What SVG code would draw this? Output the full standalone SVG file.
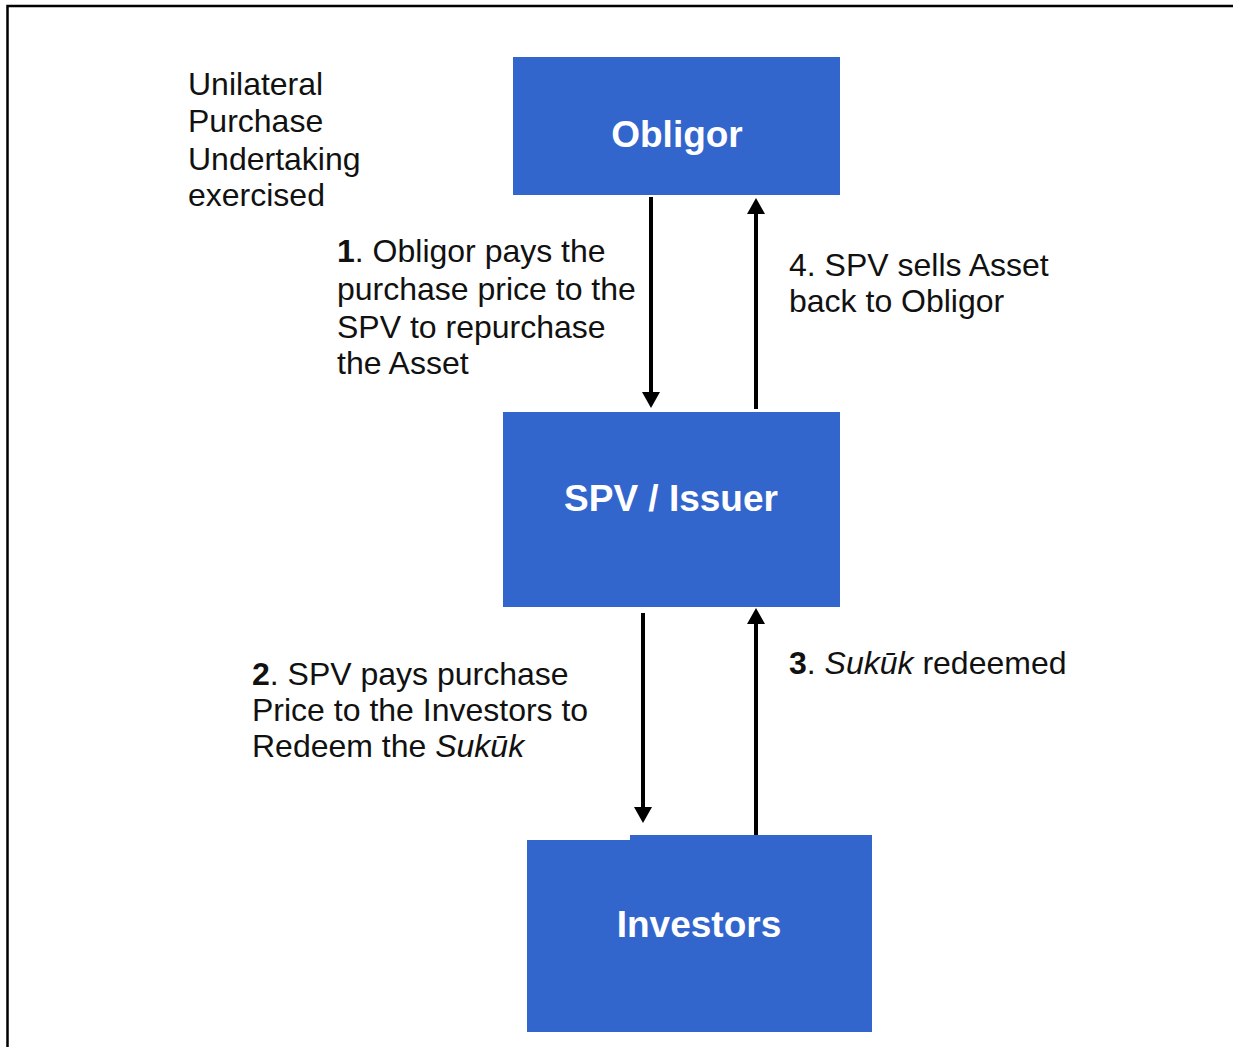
<svg xmlns="http://www.w3.org/2000/svg" width="1233" height="1047" viewBox="0 0 1233 1047">
<style>
.node{fill:#3366CC;}
.nlabel{font-family:"Liberation Sans",Arial,sans-serif;font-weight:bold;font-size:37px;fill:#ffffff;text-anchor:middle;}
.lbl{font-family:"Liberation Sans",Arial,sans-serif;font-size:32px;fill:#111111;}
.conn{stroke:#000;stroke-width:4;fill:none;marker-end:url(#ah);}
</style>
<defs>
<marker id="ah" markerUnits="userSpaceOnUse" viewBox="0 0 16 18" refX="2" refY="9" markerWidth="16" markerHeight="18" orient="auto">
<path d="M0,0 L16,9 L0,18 z" fill="#000"/>
</marker>
</defs>
<rect x="0" y="0" width="1233" height="1047" fill="#ffffff"/>
<g id="frame">
<path d="M7.5,1047 L7.5,6 L1233,6" stroke="#000" stroke-width="2.5" fill="none"/>
</g>
<g id="obligor">
<rect class="node" x="513" y="57" width="327" height="138"/>
<text class="nlabel" x="677" y="147">Obligor</text>
</g>
<g id="spv">
<rect class="node" x="503" y="412" width="337" height="195"/>
<text class="nlabel" x="671" y="511">SPV / Issuer</text>
</g>
<g id="investors">
<path class="node" d="M527,840 L630,840 L630,835 L872,835 L872,1032 L527,1032 z"/>
<text class="nlabel" x="699" y="937">Investors</text>
</g>
<g id="connectors">
<line class="conn" x1="651" y1="197" x2="651" y2="394"/>
<line class="conn" x1="756" y1="409" x2="756" y2="212"/>
<line class="conn" x1="643" y1="613" x2="643" y2="809"/>
<line class="conn" x1="756" y1="835" x2="756" y2="622"/>
</g>
<g id="labels">
<text class="lbl" x="188"><tspan x="188" y="95">Unilateral</tspan><tspan x="188" y="132">Purchase</tspan><tspan x="188" y="170">Undertaking</tspan><tspan x="188" y="206">exercised</tspan></text>
<text class="lbl"><tspan x="337" y="262"><tspan font-weight="bold">1</tspan>. Obligor pays the</tspan><tspan x="337" y="300">purchase price to the</tspan><tspan x="337" y="338">SPV to repurchase</tspan><tspan x="337" y="374">the Asset</tspan></text>
<text class="lbl"><tspan x="789" y="276">4. SPV sells Asset</tspan><tspan x="789" y="312">back to Obligor</tspan></text>
<text class="lbl"><tspan x="252" y="685"><tspan font-weight="bold">2</tspan>. SPV pays purchase</tspan><tspan x="252" y="721">Price to the Investors to</tspan><tspan x="252" y="757">Redeem the <tspan font-style="italic">Sukūk</tspan></tspan></text>
<text class="lbl" x="789" y="674"><tspan font-weight="bold">3</tspan>. <tspan font-style="italic">Sukūk</tspan> redeemed</text>
</g>
</svg>
